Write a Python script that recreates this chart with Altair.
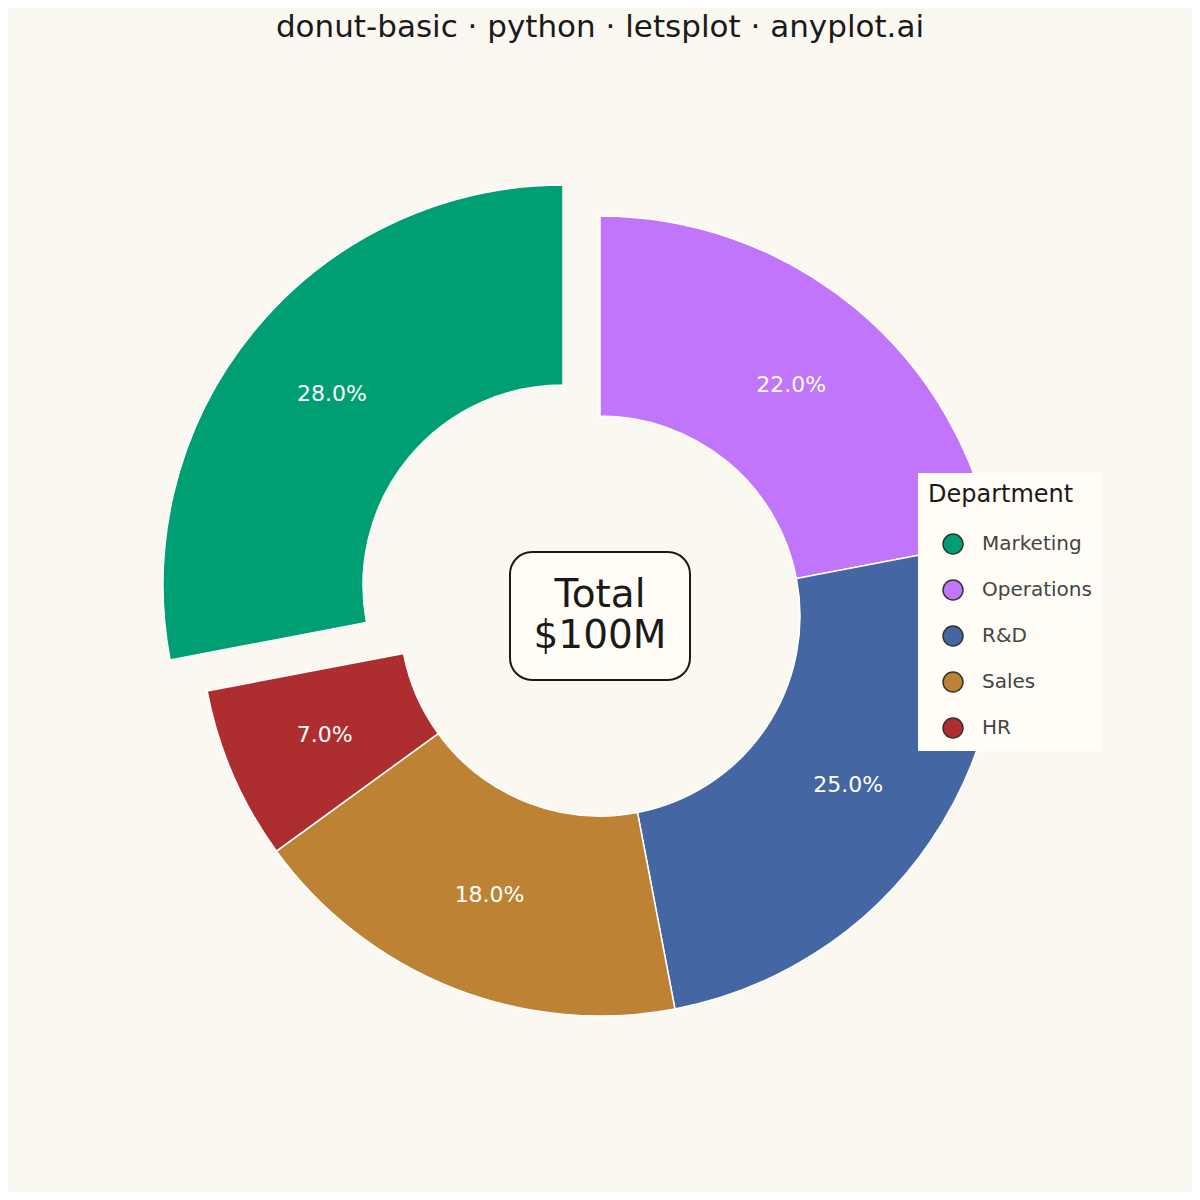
import altair as alt
import pandas as pd

# ---- data ----
departments = ["Operations", "R&D", "Sales", "HR", "Marketing"]
shares = [22, 25, 18, 7, 28]
slice_order = [1, 2, 3, 4, 5]
legend_order = ["Marketing", "Operations", "R&D", "Sales", "HR"]
legend_colors = ["#009E73", "#C175FA", "#4467A3", "#BD8233", "#AE2E30"]
exploded = "Marketing"
center_lines = ["Total", "$100M"]

df = pd.DataFrame({"dept": departments, "share": shares, "ord": slice_order})

W, H = 1184, 1116
BG = "#FAF8F1"
R_OUT, R_IN, R_LAB = 400, 200, 300
EXP_DX, EXP_DY = -37, -31

theta_scale = alt.Scale(domain=[0, 100], range=[0, 6.283185307179586])
color_scale = alt.Scale(domain=legend_order, range=legend_colors)

base = (
    alt.Chart(df)
    .transform_window(cum="sum(share)", sort=[{"field": "ord"}])
    .transform_calculate(
        start="datum.cum - datum.share",
        mid="datum.cum - datum.share / 2",
        label="format(datum.share, '.1f') + '%'",
    )
)

arc_kw = dict(outerRadius=R_OUT, innerRadius=R_IN, stroke="white", strokeWidth=1.5)

arcs = base.transform_filter(alt.datum.dept != exploded).mark_arc(**arc_kw).encode(
    theta=alt.Theta("start:Q", scale=theta_scale),
    theta2="cum:Q",
    color=alt.Color(
        "dept:N",
        scale=color_scale,
        sort=legend_order,
        legend=alt.Legend(
            title="Department",
            orient="none",
            legendX=910,
            legendY=415,
            fillColor="#FFFDF6",
            padding=10,
            titleFontSize=24,
            titleFont="DejaVu Sans",
            titleFontWeight="normal",
            titleColor="#1a1a1a",
            titlePadding=26,
            labelFontSize=20,
            labelFont="DejaVu Sans",
            labelColor="#444444",
            labelOffset=18,
            symbolType="circle",
            symbolSize=400,
            symbolStrokeColor="#333333",
            symbolStrokeWidth=1.5,
            symbolOffset=14,
            rowPadding=20,
            offset=0,
        ),
    ),
)

arc_exp = base.transform_filter(alt.datum.dept == exploded).mark_arc(
    xOffset=EXP_DX, yOffset=EXP_DY, **arc_kw
).encode(
    theta=alt.Theta("start:Q", scale=theta_scale),
    theta2="cum:Q",
    color=alt.Color("dept:N", scale=color_scale, legend=None),
)

txt_kw = dict(radius=R_LAB, fontSize=22, font="DejaVu Sans", color="white",
              align="center", baseline="middle")

labels = base.transform_filter(alt.datum.dept != exploded).mark_text(**txt_kw).encode(
    theta=alt.Theta("mid:Q", scale=theta_scale),
    text="label:N",
)
labels_exp = base.transform_filter(alt.datum.dept == exploded).mark_text(
    xOffset=EXP_DX, yOffset=EXP_DY, **txt_kw
).encode(
    theta=alt.Theta("mid:Q", scale=theta_scale),
    text="label:N",
)

cx, cy = W / 2, H / 2
box_df = pd.DataFrame({"t": ["\n".join(center_lines)]})
box = alt.Chart(box_df).mark_rect(
    fill="#FFFDF6", stroke="#1a1a1a", strokeWidth=2, cornerRadius=22
).encode(
    x=alt.value(cx - 90), x2=alt.value(cx + 90),
    y=alt.value(cy - 64), y2=alt.value(cy + 64),
)
center_text = alt.Chart(box_df).mark_text(
    fontSize=39, font="DejaVu Sans", color="#1a1a1a", lineBreak="\n",
    lineHeight=41, align="center", baseline="alphabetic",
).encode(text="t:N", x=alt.value(cx), y=alt.value(cy - 9))

chart = (
    alt.layer(arcs, arc_exp, labels, labels_exp, box, center_text)
    .properties(
        width=W,
        height=H,
        background=BG,
        padding={"left": 0, "right": 0, "top": 50, "bottom": 18},
        autosize=alt.AutoSizeParams(type="none"),
        title=alt.TitleParams(
            "donut-basic · python · letsplot · anyplot.ai",
            fontSize=31,
            font="DejaVu Sans",
            fontWeight="normal",
            color="#1a1a1a",
            anchor="middle",
            offset=14,
        ),
    )
    .configure_view(stroke=None)
)

chart.save("out.html", embed_options={"renderer": "svg", "actions": False})
